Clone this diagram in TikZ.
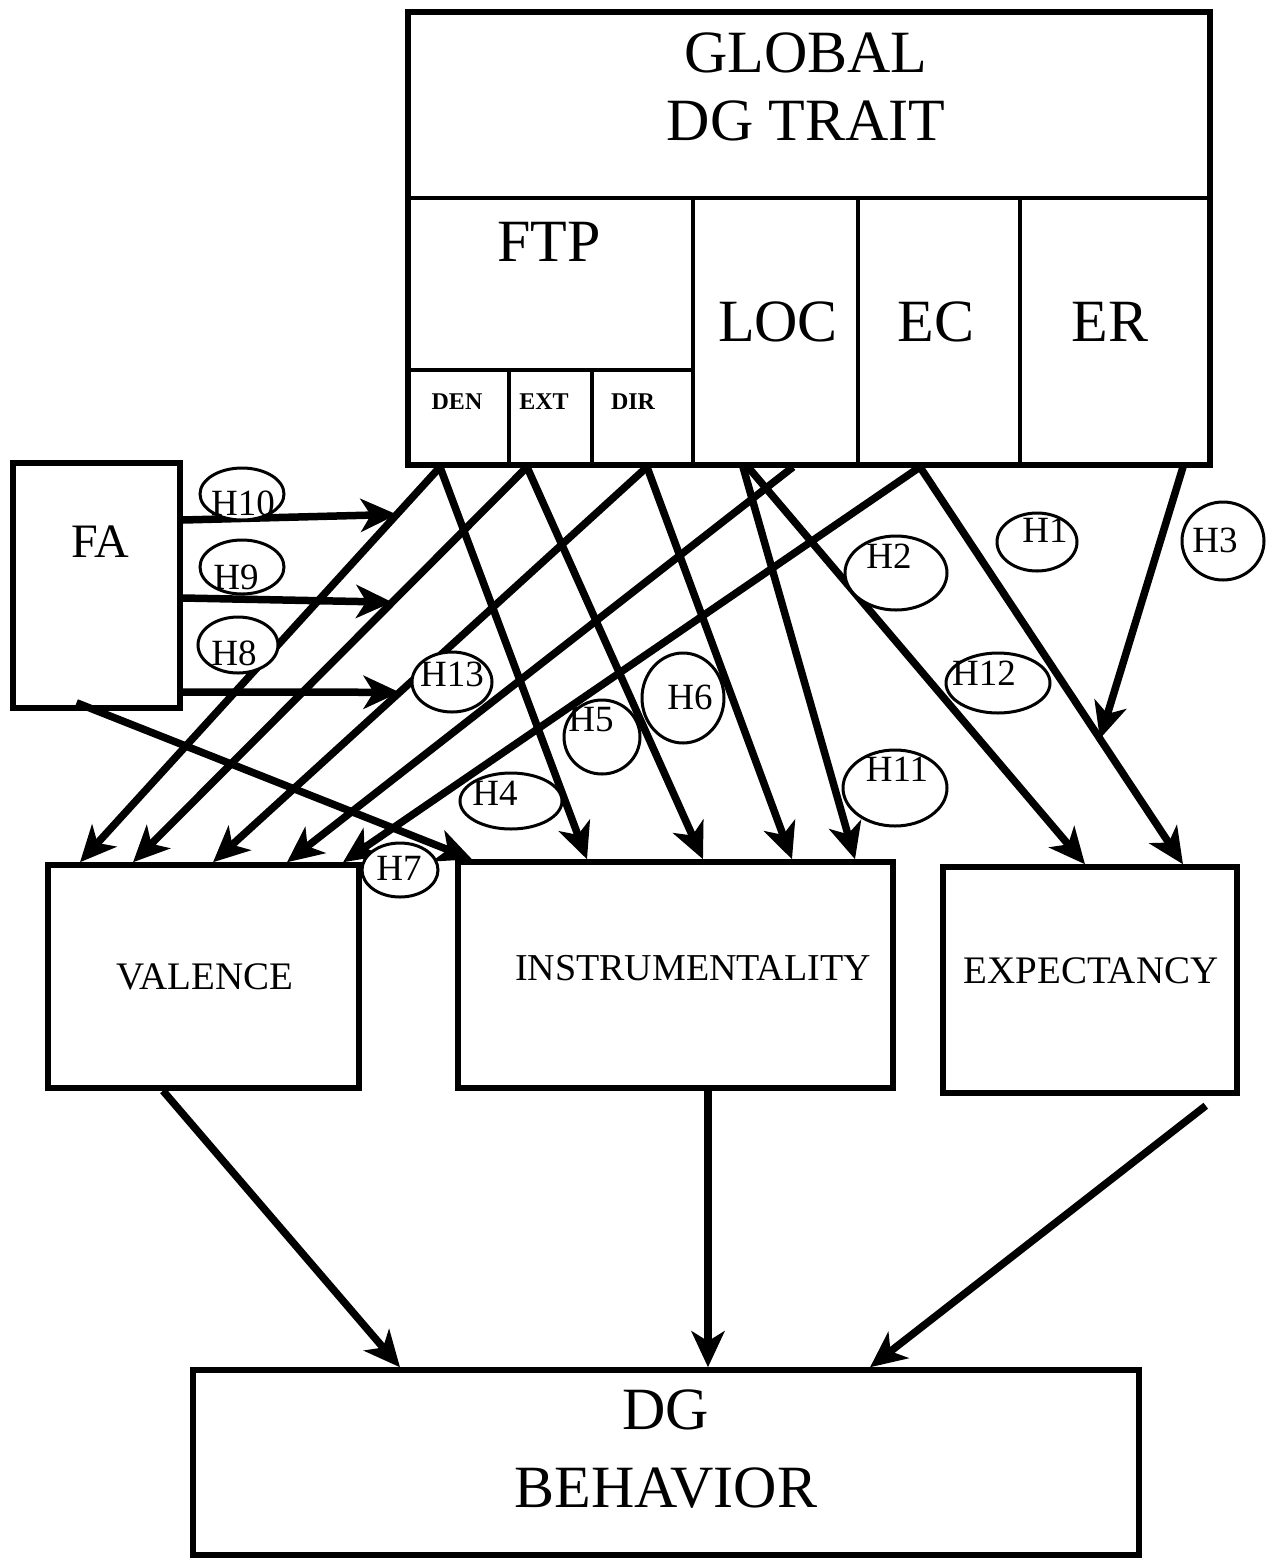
\documentclass[tikz,border=0pt]{standalone}
\usepackage{fontspec}
\setmainfont{Liberation Serif}
\usetikzlibrary{arrows.meta}

\tikzset{
  frame/.style={draw, line width=5.5pt, inner sep=0pt},
  cell/.style={draw, line width=4pt, inner sep=0pt},
  link/.style={line width=7.5pt, -{Stealth[length=36pt, width=33pt, inset=10pt]}},
  hyp/.style={draw, fill=white, line width=3pt},
  bigtext/.style={font=\fontsize{60}{68}\selectfont, align=center, inner sep=0pt},
  midtext/.style={font=\fontsize{39}{44}\selectfont, inner sep=0pt},
  smalltext/.style={font=\bfseries\fontsize{24}{28}\selectfont, inner sep=0pt},
  hyptext/.style={font=\fontsize{37}{40}\selectfont, inner sep=0pt}
}

\begin{document}
\begin{tikzpicture}[x=1pt, y=-1pt]
  \useasboundingbox (0,0) rectangle (1272,1559);
  % trait block
  \node[frame, minimum width=802pt, minimum height=453pt] (trait) at (809,238.5) {};
  \node[cell, minimum width=802pt, minimum height=186pt] (global) at (809,105) {};
  \node[cell, minimum width=285pt, minimum height=172pt] (ftp) at (550.5,284) {};
  \node[cell, minimum width=101pt, minimum height=95pt] (den) at (458.5,417.5) {};
  \node[cell, minimum width=83pt, minimum height=95pt] (ext) at (550.5,417.5) {};
  \node[cell, minimum width=101pt, minimum height=95pt] (dir) at (642.5,417.5) {};
  \node[cell, minimum width=165pt, minimum height=267pt] (loc) at (775.5,331.5) {};
  \node[cell, minimum width=162pt, minimum height=267pt] (ec) at (939,331.5) {};
  \node[cell, minimum width=190pt, minimum height=267pt] (er) at (1115,331.5) {};
  \node[bigtext] (globaltxt) at (806,87) {GLOBAL\\DG TRAIT};
  \node[bigtext] (ftptxt) at (549,242) {FTP};
  \node[bigtext] (loctxt) at (778,322) {LOC};
  \node[bigtext] (ectxt) at (936,322) {EC};
  \node[bigtext] (ertxt) at (1110,322) {ER};
  \node[smalltext] (dentxt) at (457,402) {DEN};
  \node[smalltext] (exttxt) at (544,402) {EXT};
  \node[smalltext] (dirtxt) at (633,402) {DIR};
  % other boxes
  \node[frame, minimum width=167pt, minimum height=245pt] (fa) at (96.5,585.5) {};
  \node[frame, minimum width=311pt, minimum height=223pt] (valence) at (203.5,976.5) {};
  \node[frame, minimum width=435pt, minimum height=226pt] (instr) at (675.5,975) {};
  \node[frame, minimum width=294pt, minimum height=226pt] (expect) at (1090,980) {};
  \node[frame, minimum width=946pt, minimum height=185pt] (behav) at (666,1462.5) {};
  \node[midtext, font=\fontsize{48}{52}\selectfont] (fatxt) at (100,542) {FA};
  \node[midtext] (valtxt) at (205,977) {VALENCE};
  \node[midtext, font=\fontsize{38}{42}\selectfont] (instrtxt) at (693,968) {INSTRUMENTALITY};
  \node[midtext] (exptxt) at (1091,971) {EXPECTANCY};
  \node[bigtext, font=\fontsize{60}{78}\selectfont] (behavtxt) at (666,1449) {DG\\BEHAVIOR};
  % trait facets to valence / instrumentality / expectancy
  \draw[link] (440,0 |- den.south) -- coordinate[pos=0.12] (onden) (80,0 |- valence.north);
  \draw[link] (440,0 |- den.south) -- (587,0 |- instr.north);
  \draw[link] (527,0 |- ext.south) -- coordinate[pos=0.342] (onext) (133,0 |- valence.north);
  \draw[link] (527,0 |- ext.south) -- (703,0 |- instr.north);
  \draw[link] (647,0 |- dir.south) -- coordinate[pos=0.57] (ondir) (213,0 |- valence.north);
  \draw[link] (647,0 |- dir.south) -- (792,0 |- instr.north);
  \draw[link] (743,0 |- loc.south) -- (855,0 |- instr.north);
  \draw[link] (748,0 |- loc.south) -- (1085,0 |- expect.north);
  \draw[link] (793,0 |- loc.south) -- (287,0 |- valence.north);
  \draw[link] (920,0 |- ec.south) -- (343,0 |- valence.north);
  \draw[link] (920,0 |- ec.south) -- coordinate[pos=0.684] (onec) (1183,0 |- expect.north);
  \draw[link] (1183,0 |- er.south) -- (onec);
  % FA moderating arrows
  \draw[link] (fa.east |- 0,520) -- (onden);
  \draw[link] (fa.east |- 0,598) -- (onext);
  \draw[link] (fa.east |- 0,692) -- (ondir);
  \draw[link] ([xshift=-20pt, yshift=8pt]fa.south) -- (472,0 |- instr.north);
  % to behavior
  \draw[link] (163,0 |- valence.south) -- (400,0 |- behav.north);
  \draw[link] (708,0 |- instr.south) -- (708,0 |- behav.north);
  \draw[link] ([xshift=-34pt, yshift=-10pt]expect.south east) -- (870,0 |- behav.north);
  % hypothesis tags
  \foreach \n/\cx/\cy/\rx/\ry/\tx/\ty in {10/242/494/42/26/243/503, 9/242/567/42/27/236/577,
      8/238/645/40/28/234/653, 13/452/682/40/30/452/674, 7/400/870/38/27/399/868,
      4/511/801/51/28/495/793, 5/602/737/38/37/591/720, 6/683/698/41/45/690/697,
      11/895/788/52/38/897/769, 12/998/683/52/30/984/673, 2/896/573/51/37/889/556,
      1/1037/542/40/29/1045/530, 3/1223/541/41/39/1215/540}
  {
    \draw[hyp] (\cx,\cy) ellipse [x radius=\rx, y radius=\ry];
    \node[hyptext] (h\n) at (\tx,\ty) {H\n};
  }
\end{tikzpicture}
\end{document}
